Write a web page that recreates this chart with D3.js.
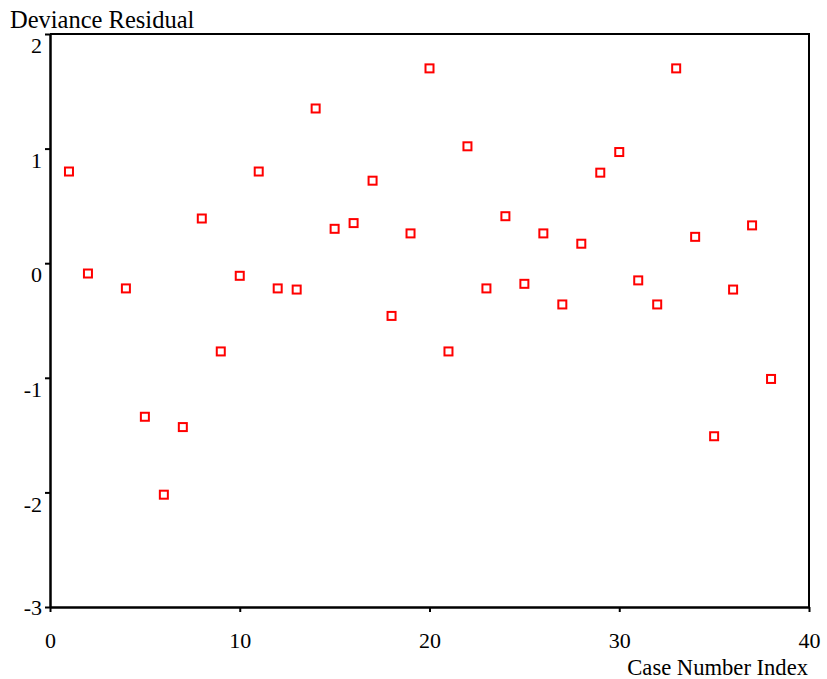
<!DOCTYPE html>
<html>
<head>
<meta charset="utf-8">
<script src="https://cdn.jsdelivr.net/npm/d3@7"></script>
<style>
  body { margin: 0; background: #fff; }
  svg text { font-family: "Liberation Serif", "Times New Roman", serif; fill: #000; }
</style>
</head>
<body>
<svg id="svg"></svg>
<script>
// case numbers (case 3 is absent in the source plot)
const cases = [1, 2, 4, 5, 6, 7, 8, 9, 10, 11, 12, 13, 14, 15, 16, 17, 18, 19, 20,
  21, 22, 23, 24, 25, 26, 27, 28, 29, 30, 31, 32, 33, 34, 35, 36, 37, 38];
const residuals = [0.80, -0.09, -0.22, -1.34, -2.02, -1.43, 0.39, -0.77, -0.11, 0.80,
  -0.22, -0.23, 1.35, 0.30, 0.35, 0.72, -0.46, 0.26, 1.70,
  -0.77, 1.02, -0.22, 0.41, -0.18, 0.26, -0.36, 0.17, 0.79, 0.97, -0.15, -0.36,
  1.70, 0.23, -1.51, -0.23, 0.33, -1.01];
const xTicks = [0, 10, 20, 30, 40];
const yTicks = [2, 1, 0, -1, -2, -3];

const width = 827, height = 679;
const plotL = 50, plotR = 809, plotT = 34, plotB = 607;
const serif = '"Liberation Serif", "Times New Roman", serif';

const svg = d3.select("#svg")
  .attr("width", width)
  .attr("height", height)
  .attr("viewBox", [0, 0, width, height]);

const xScale = d3.scaleLinear([0, 40], [plotL, plotR]);
const yScale = d3.scaleLinear([-3, 2], [plotB, plotT]);

// frame (top and right)
svg.append("path")
  .attr("d", `M${plotL},${plotT}H${plotR}V${plotB}`)
  .attr("fill", "none")
  .attr("stroke", "#000")
  .attr("stroke-width", 2);

// y axis
const yAxis = svg.append("g")
  .attr("transform", `translate(${plotL},0)`)
  .call(d3.axisLeft(yScale).tickValues(yTicks).tickFormat(d => String(d))
    .tickSize(5).tickSizeOuter(0).tickPadding(3))
  .attr("font-family", serif)
  .attr("font-size", 22);
yAxis.select(".domain").attr("stroke-width", 2.5);
yAxis.selectAll(".tick line").attr("stroke-width", 2);
yAxis.selectAll("text")
  .attr("dy", d => d === -3 ? "0.32em" : "0.85em");

// x axis
const xAxis = svg.append("g")
  .attr("transform", `translate(0,${plotB})`)
  .call(d3.axisBottom(xScale).tickValues(xTicks).tickFormat(d => String(d))
    .tickSize(5).tickSizeOuter(0).tickPadding(20))
  .attr("font-family", serif)
  .attr("font-size", 22);
xAxis.select(".domain").attr("stroke-width", 2.5);
xAxis.selectAll(".tick line").attr("stroke-width", 2);

// axis titles
svg.append("text")
  .attr("x", 10).attr("y", 28)
  .attr("font-size", 24.5)
  .text("Deviance Residual");
svg.append("text")
  .attr("x", 808).attr("y", 675)
  .attr("text-anchor", "end")
  .attr("font-size", 22.6)
  .text("Case Number Index");

// points
const pts = cases.map((c, i) => ({ c, r: residuals[i] }));
svg.append("g")
  .selectAll("rect")
  .data(pts)
  .join("rect")
  .attr("x", d => xScale(d.c) - 4)
  .attr("y", d => yScale(d.r) - 4)
  .attr("width", 8)
  .attr("height", 8)
  .attr("fill", "#fff")
  .attr("stroke", "#ff0000")
  .attr("stroke-width", 2);
</script>
</body>
</html>
